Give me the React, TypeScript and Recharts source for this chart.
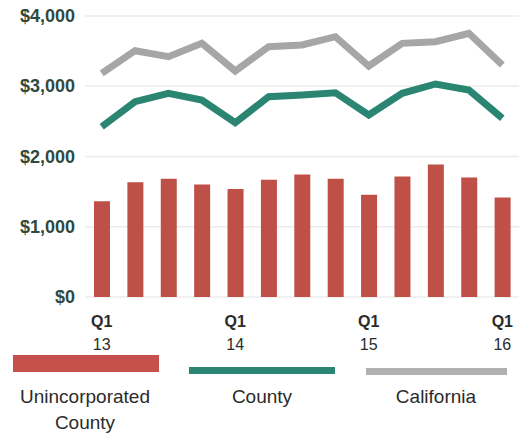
import React from "react";
import { ComposedChart, Bar, Line, XAxis, YAxis, CartesianGrid } from "recharts";

const quarters = ["Q1 13", "Q2 13", "Q3 13", "Q4 13", "Q1 14", "Q2 14", "Q3 14", "Q4 14", "Q1 15", "Q2 15", "Q3 15", "Q4 15", "Q1 16"];
const unincorporated = [1362, 1635, 1683, 1603, 1536, 1669, 1745, 1683, 1456, 1716, 1887, 1702, 1418];
const county = [2424, 2780, 2900, 2804, 2481, 2851, 2875, 2908, 2591, 2900, 3032, 2947, 2544];
const california = [3184, 3506, 3421, 3611, 3217, 3563, 3587, 3705, 3288, 3611, 3634, 3754, 3302];
const yTicks = [0, 1000, 2000, 3000, 4000];
const labeledQuarters = [0, 4, 8, 12];

const data = quarters.map((q, i) => ({
  q,
  uninc: unincorporated[i],
  county: county[i],
  ca: california[i],
}));

const FONT = "'Liberation Sans', Arial, sans-serif";

const XTick = (props: any) => {
  const { x, y, payload, index } = props;
  if (!labeledQuarters.includes(index)) return null;
  const [qq, yy] = String(payload.value).split(" ");
  return (
    <g>
      <text x={x} y={y + 22} textAnchor="middle" fontFamily={FONT} fontSize={16} fontWeight="bold" fill="#2b2b2b">{qq}</text>
      <text x={x} y={y + 45} textAnchor="middle" fontFamily={FONT} fontSize={16} fill="#2b2b2b">{yy}</text>
    </g>
  );
};

const YTick = (props: any) => {
  const { y, payload } = props;
  return (
    <text x={75} y={y + 6} textAnchor="end" fontFamily={FONT} fontSize={18} fontWeight="bold" fill="#2f4a40">
      {"$" + Number(payload.value).toLocaleString("en-US")}
    </text>
  );
};

export default function App() {
  return (
    <div style={{ position: "absolute", left: 0, top: 0, width: 526, height: 434, background: "#fff" }}>
      <ComposedChart width={526} height={434} data={data} margin={{ top: 16, right: 7, left: 0, bottom: 97 }}>
        <CartesianGrid vertical={false} stroke="#ececec" strokeWidth={1.5} />
        <XAxis dataKey="q" axisLine={false} tickLine={false} interval={0} height={40} tick={<XTick />} />
        <YAxis domain={[0, 4000]} ticks={yTicks} axisLine={false} tickLine={false} width={85} tick={<YTick />} />
        <Bar dataKey="uninc" fill="#bf5048" barSize={16} isAnimationActive={false} />
        <Line dataKey="county" stroke="#2a8573" strokeWidth={7} dot={false} isAnimationActive={false} />
        <Line dataKey="ca" stroke="#a6a6a6" strokeWidth={7} dot={false} isAnimationActive={false} />
      </ComposedChart>
      <div style={{ position: "absolute", left: 13, top: 355, width: 146, height: 17, background: "#c5504c" }} />
      <div style={{ position: "absolute", left: 189, top: 367, width: 146, height: 7, background: "#2a8573" }} />
      <div style={{ position: "absolute", left: 366, top: 368, width: 141, height: 7, background: "#b0b0b0" }} />
      <div style={{ position: "absolute", left: 0, top: 384, width: 170, textAlign: "center", fontFamily: FONT, fontSize: 19, lineHeight: "26px", color: "#2b2b2b" }}>
        Unincorporated<br />County
      </div>
      <div style={{ position: "absolute", left: 182, top: 384, width: 160, textAlign: "center", fontFamily: FONT, fontSize: 19, lineHeight: "26px", color: "#2b2b2b" }}>
        County
      </div>
      <div style={{ position: "absolute", left: 356, top: 384, width: 160, textAlign: "center", fontFamily: FONT, fontSize: 19, lineHeight: "26px", color: "#2b2b2b" }}>
        California
      </div>
    </div>
  );
}
